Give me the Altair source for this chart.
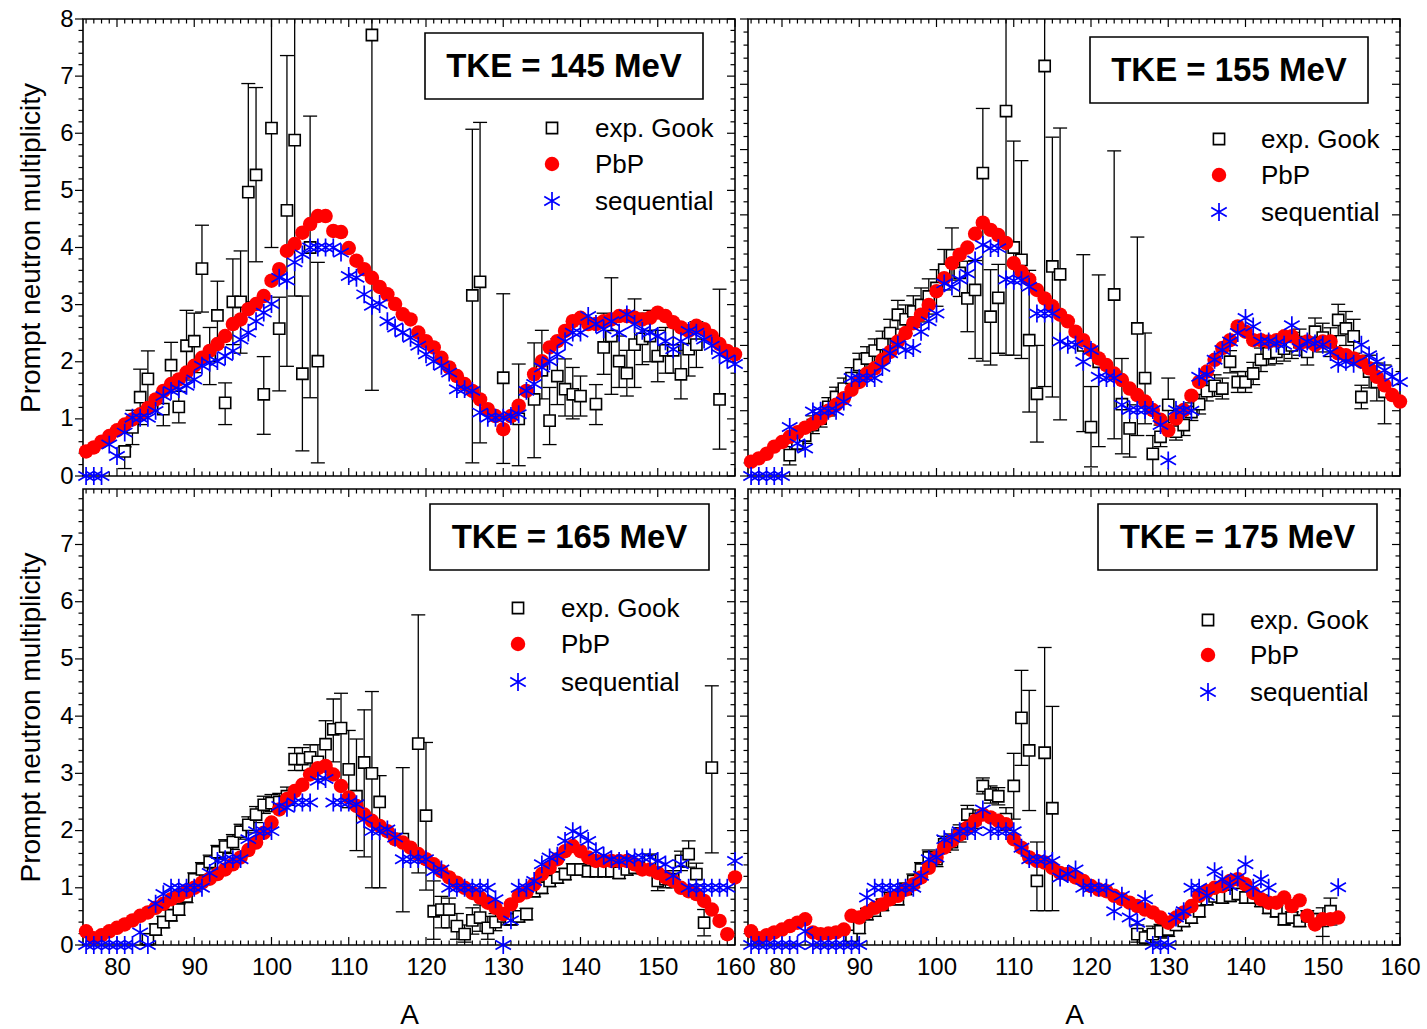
import altair as alt
import pandas as pd

FONT = "Liberation Sans"
RED = "#ff0000"
BLUE = "#0000ff"
STAR = "M0,-1L0,1M-0.866,-0.5L0.866,0.5M-0.866,0.5L0.866,-0.5"

XMIN, XMAX = 75.6, 160.0
W = 652
H_TOP, H_BOT = 457, 456

A_ALL = list(range(76, 161))
A_175 = list(range(76, 153))

# ---------------- TKE = 145 MeV ----------------
PBP_145 = [0.43, 0.50, 0.60, 0.70, 0.80, 0.90, 0.99, 1.08, 1.19, 1.34,
           1.49, 1.61, 1.69, 1.81, 1.93, 2.07, 2.19, 2.31, 2.45, 2.66,
           2.74, 2.92, 3.01, 3.15, 3.42, 3.62, 3.94, 4.06, 4.26, 4.41,
           4.55, 4.55, 4.29, 4.27, 3.99, 3.77, 3.62, 3.47, 3.31, 3.18,
           3.01, 2.83, 2.74, 2.51, 2.36, 2.25, 2.07, 1.90, 1.75, 1.61,
           1.49, 1.34, 1.17, 1.05, 0.82, 1.05, 1.23, 1.49, 1.78, 2.01,
           2.25, 2.36, 2.54, 2.71, 2.77, 2.66, 2.66, 2.71, 2.74, 2.80,
           2.80, 2.77, 2.74, 2.77, 2.86, 2.80, 2.69, 2.60, 2.54, 2.63,
           2.57, 2.45, 2.31, 2.19, 2.13]
SEQ_145 = [0, 0, 0, 0.55, 0.35, 0.76, 1.02, 1.02, 1.02, 1.14,
           1.40, 1.49, 1.52, 1.58, 1.69, 1.93, 1.98, 2.01, 2.10, 2.19,
           2.39, 2.51, 2.71, 2.86, 3.01, 3.47, 3.42, 3.74, 3.88, 4.00,
           4.00, 4.00, 4.00, 3.91, 3.50, 3.47, 3.18, 2.98, 3.01, 2.71,
           2.60, 2.51, 2.42, 2.28, 2.13, 2.01, 1.93, 1.81, 1.52, 1.52,
           1.49, 1.11, 1.02, 1.02, 1.02, 1.05, 1.08, 1.49, 1.61, 1.90,
           2.01, 2.13, 2.36, 2.51, 2.51, 2.80, 2.66, 2.57, 2.71, 2.51,
           2.83, 2.66, 2.54, 2.51, 2.45, 2.36, 2.22, 2.36, 2.54, 2.51,
           2.39, 2.28, 2.13, 2.04, 1.96]
EXP145_A = [81, 82, 83, 84, 86, 87, 88, 89, 90, 91, 92, 93, 94, 95, 96, 97, 98, 99, 100,
            101, 102, 103, 104, 105, 106, 113, 126, 127, 130, 132, 134, 135, 136, 137,
            138, 139, 140, 142, 143, 144, 145, 146, 147, 148, 149, 150, 151, 152, 153,
            154, 155, 158]
EXP145_V = [0.43, 0.85, 1.38, 1.70, 1.17, 1.94, 1.21, 2.28, 2.36, 3.63, 2.10, 2.81, 1.28,
            3.05, 3.05, 4.97, 5.27, 1.43, 6.09, 2.58, 4.65, 5.88, 1.79, 4.00, 2.01, 7.72,
            3.16, 3.40, 1.72, 1.00, 1.34, 1.85, 0.97, 1.75, 1.52, 1.43, 1.40, 1.26, 2.25,
            2.45, 2.01, 1.80, 2.30, 2.40, 2.45, 2.10, 2.20, 2.20, 1.78, 2.22, 2.30, 1.34]
EXP145_LO = [0.13, 0.55, 0.90, 1.20, 0.88, 1.53, 0.93, 1.68, 1.81, 2.87, 1.60, 2.26, 0.90,
             2.30, 2.15, 3.05, 3.75, 0.73, 4.00, 1.49, 1.92, 3.15, 0.44, 1.37, 0.23, 1.50,
             0.23, 0.58, 0.22, 0.18, 0.32, 1.35, 0.55, 1.25, 1.05, 1.00, 1.05, 0.90, 1.78,
             1.43, 1.55, 1.40, 1.55, 1.95, 2.00, 1.65, 1.80, 1.80, 1.35, 1.75, 1.90, 0.47]
EXP145_HI = [0.51, 1.15, 1.87, 2.19, 1.48, 2.34, 1.48, 2.90, 2.85, 4.39, 2.60, 3.41, 1.63,
             3.80, 3.94, 6.87, 6.80, 2.09, 8.50, 3.13, 7.36, 8.50, 3.15, 6.30, 3.74, 9.00,
             6.07, 6.19, 3.19, 1.96, 2.33, 2.55, 1.55, 2.40, 2.05, 1.90, 1.75, 1.60, 2.85,
             3.47, 2.45, 2.20, 3.10, 2.85, 2.90, 2.55, 2.60, 2.60, 2.20, 2.65, 2.70, 3.27]

# ---------------- TKE = 155 MeV ----------------
PBP_155 = [0.22, 0.27, 0.34, 0.45, 0.52, 0.60, 0.67, 0.74, 0.80, 0.88,
           1.00, 1.09, 1.19, 1.32, 1.44, 1.57, 1.65, 1.78, 1.90, 2.06,
           2.19, 2.34, 2.47, 2.62, 2.83, 3.03, 3.26, 3.39, 3.50, 3.71,
           3.88, 3.77, 3.69, 3.57, 3.26, 3.13, 3.01, 2.85, 2.72, 2.60,
           2.47, 2.37, 2.21, 2.08, 1.93, 1.80, 1.70, 1.57, 1.47, 1.34,
           1.24, 1.14, 1.01, 0.86, 0.70, 0.88, 1.01, 1.23, 1.44, 1.60,
           1.78, 1.96, 2.08, 2.29, 2.21, 2.08, 2.08, 2.06, 2.08, 2.14,
           2.14, 2.03, 2.06, 2.01, 2.06, 2.06, 1.88, 1.85, 1.80, 1.75,
           1.65, 1.52, 1.39, 1.24, 1.14]
SEQ_155 = [0, 0, 0, 0, 0, 0.75, 0.50, 0.42, 0.99, 1.00,
           1.00, 1.00, 1.14, 1.50, 1.50, 1.50, 1.50, 1.67, 1.88, 2.01,
           1.93, 1.96, 2.21, 2.37, 2.49, 2.95, 2.90, 3.01, 3.10, 3.30,
           3.54, 3.49, 3.49, 3.01, 2.99, 3.00, 2.90, 2.49, 2.49, 2.49,
           2.06, 2.01, 2.01, 1.75, 1.93, 1.52, 1.50, 1.50, 1.09, 1.01,
           1.01, 1.01, 1.01, 0.78, 0.24, 1.01, 1.01, 1.00, 1.52, 1.55,
           1.78, 1.93, 2.06, 2.19, 2.42, 2.29, 2.06, 2.06, 2.03, 2.01,
           2.31, 1.96, 2.06, 2.03, 2.01, 1.90, 1.72, 1.75, 1.72, 2.01,
           1.85, 1.75, 1.62, 1.52, 1.44]
EXP155_A = [81, 82, 83, 84, 85, 86, 87, 88, 89, 90, 91, 92, 93, 94, 95, 96, 97, 98, 99, 100,
            101, 102, 103, 104, 105, 106, 107, 108, 109, 110, 111, 112, 113, 114, 115, 116,
            119, 120, 121, 123, 124, 125, 126, 127, 128, 129, 130, 131, 132, 133, 134, 135,
            136, 137, 138, 139, 140, 141, 142, 143, 144, 145, 146, 147, 148, 149, 150, 151,
            152, 153, 154, 155, 156, 157, 158]
EXP155_V = [0.32, 0.50, 0.62, 0.78, 0.88, 1.06, 1.21, 1.34, 1.50, 1.70, 1.80, 1.92, 2.02,
            2.19, 2.47, 2.40, 2.52, 2.62, 2.75, 2.88, 3.16, 3.38, 3.11, 2.72, 2.85, 4.64,
            2.44, 2.73, 5.59, 3.50, 3.31, 2.08, 1.26, 6.28, 3.21, 3.09, 2.00, 0.75, 1.75,
            2.78, 1.10, 0.73, 2.26, 1.50, 0.34, 0.60, 1.09, 0.68, 0.78, 0.98, 1.10, 1.30,
            1.38, 1.34, 1.75, 1.44, 1.44, 1.57, 1.78, 1.88, 1.90, 1.95, 2.00, 2.05, 1.90,
            2.21, 2.12, 2.05, 2.39, 2.26, 2.14, 1.21, 1.60, 1.44, 1.29]
EXP155_LO = [0.17, 0.40, 0.50, 0.65, 0.75, 0.92, 1.06, 1.18, 1.34, 1.52, 1.62, 1.74, 1.82,
             1.98, 2.25, 2.18, 2.28, 2.36, 2.48, 2.60, 2.85, 3.00, 2.75, 2.21, 1.80, 1.76,
             1.70, 1.88, 1.85, 1.85, 1.80, 0.98, 0.52, 1.37, 1.21, 0.86, 0.68, 0.14, 0.45,
             0.57, 0.34, 0.29, 0.62, 0.80, 0.00, 0.45, 0.68, 0.55, 0.62, 0.85, 0.95, 1.15,
             1.22, 1.18, 1.58, 1.28, 1.28, 1.40, 1.60, 1.70, 1.72, 1.76, 1.80, 1.85, 1.70,
             2.00, 1.90, 1.83, 2.15, 2.00, 1.88, 1.03, 1.35, 1.15, 0.80]
EXP155_HI = [0.45, 0.62, 0.75, 0.92, 1.02, 1.20, 1.36, 1.50, 1.66, 1.88, 1.98, 2.10, 2.22,
             2.40, 2.69, 2.62, 2.76, 2.88, 3.02, 3.16, 3.47, 3.80, 3.47, 3.29, 3.30, 5.63,
             3.16, 3.24, 7.50, 5.13, 4.83, 3.15, 2.00, 7.50, 5.19, 5.33, 3.39, 1.37, 3.08,
             4.98, 1.80, 1.09, 3.66, 2.19, 0.62, 0.78, 1.50, 0.82, 0.95, 1.12, 1.25, 1.45,
             1.55, 1.50, 1.92, 1.60, 1.60, 1.74, 1.96, 2.06, 2.08, 2.14, 2.20, 2.25, 2.10,
             2.42, 2.34, 2.27, 2.63, 2.52, 2.40, 1.39, 1.85, 1.73, 1.70]

# ---------------- TKE = 165 MeV ----------------
PBP_165 = [0.24, 0.12, 0.17, 0.24, 0.30, 0.36, 0.43, 0.51, 0.57, 0.65,
           0.72, 0.80, 0.86, 0.93, 1.00, 1.09, 1.16, 1.24, 1.32, 1.41,
           1.53, 1.66, 1.79, 1.96, 2.14, 2.37, 2.55, 2.69, 2.80, 2.98,
           3.09, 3.13, 2.98, 2.78, 2.58, 2.43, 2.28, 2.17, 2.08, 1.99,
           1.85, 1.79, 1.70, 1.59, 1.50, 1.41, 1.29, 1.18, 1.09, 1.00,
           0.91, 0.83, 0.74, 0.65, 0.54, 0.71, 0.86, 0.92, 1.06, 1.24,
           1.35, 1.50, 1.64, 1.73, 1.64, 1.53, 1.47, 1.47, 1.47, 1.47,
           1.47, 1.41, 1.32, 1.32, 1.26, 1.18, 1.12, 1.00, 0.94, 0.89,
           0.77, 0.62, 0.42, 0.19, 1.18]
SEQ_165 = [0, 0, 0, 0, 0, 0, 0, 0.22, 0, 0.72,
           0.89, 1.00, 1.00, 1.00, 1.00, 1.00, 1.26, 1.47, 1.50, 1.50,
           1.50, 1.85, 1.99, 1.99, 1.99, 2.43, 2.40, 2.49, 2.49, 2.49,
           2.87, 2.90, 2.49, 2.49, 2.49, 2.46, 2.20, 1.99, 1.99, 2.02,
           1.88, 1.50, 1.50, 1.50, 1.50, 1.29, 1.32, 1.00, 1.00, 1.00,
           1.00, 1.00, 1.00, 0.80, 0, 0.43, 1.00, 1.00, 1.12, 1.41,
           1.53, 1.56, 1.82, 1.99, 1.93, 1.82, 1.64, 1.56, 1.50, 1.47,
           1.50, 1.53, 1.53, 1.53, 1.47, 1.41, 1.21, 1.41, 1.00, 1.00,
           1.00, 1.00, 1.00, 1.00, 1.47]
EXP165_A = [84, 85, 86, 87, 88, 89, 90, 91, 92, 93, 94, 95, 96, 97, 98, 99, 100, 101, 102,
            103, 104, 105, 106, 107, 108, 109, 110, 111, 112, 113, 114, 117, 119, 120, 121,
            122, 123, 124, 125, 126, 127, 128, 129, 130, 131, 132, 133, 134, 135, 136, 137,
            138, 139, 140, 141, 142, 143, 144, 145, 146, 147, 148, 149, 150, 151, 152, 153,
            154, 155, 156, 157]
EXP165_V = [0.10, 0.27, 0.40, 0.52, 0.62, 0.85, 1.15, 1.32, 1.45, 1.62, 1.72, 1.80, 1.98,
            2.10, 2.28, 2.45, 2.48, 2.50, 2.60, 3.25, 3.25, 3.28, 3.20, 3.51, 3.77, 3.79,
            3.07, 2.60, 3.19, 3.00, 2.50, 1.85, 3.52, 2.26, 0.59, 0.62, 0.62, 0.33, 0.19,
            0.43, 0.48, 0.30, 0.40, 0.50, 0.45, 0.50, 0.54, 0.94, 1.00, 1.12, 1.18, 1.24,
            1.32, 1.32, 1.29, 1.29, 1.29, 1.29, 1.26, 1.32, 1.35, 1.35, 1.47, 1.12, 1.15,
            1.15, 1.47, 1.59, 1.24, 0.39, 3.10]
EXP165_LO = [0.02, 0.17, 0.30, 0.42, 0.52, 0.74, 1.04, 1.20, 1.33, 1.50, 1.60, 1.67, 1.85,
             1.96, 2.14, 2.30, 2.33, 2.35, 2.44, 3.05, 3.05, 3.05, 2.90, 3.10, 3.20, 2.80,
             2.40, 1.65, 1.54, 1.00, 1.00, 0.58, 1.26, 0.96, 0.10, 0.30, 0.30, 0.10, 0.05,
             0.19, 0.24, 0.10, 0.25, 0.35, 0.35, 0.40, 0.44, 0.84, 0.90, 1.02, 1.08, 1.14,
             1.22, 1.22, 1.19, 1.19, 1.19, 1.19, 1.16, 1.22, 1.25, 1.25, 1.35, 0.95, 1.00,
             1.00, 1.30, 1.36, 1.05, 0.16, 1.61]
EXP165_HI = [0.20, 0.37, 0.50, 0.62, 0.72, 0.96, 1.26, 1.44, 1.57, 1.74, 1.84, 1.93, 2.11,
             2.24, 2.42, 2.60, 2.63, 2.65, 2.76, 3.45, 3.45, 3.50, 3.50, 3.92, 4.30, 4.40,
             3.75, 3.60, 4.11, 4.43, 2.96, 3.10, 5.77, 3.54, 1.12, 0.85, 0.82, 0.55, 0.35,
             0.65, 0.70, 0.50, 0.55, 0.65, 0.55, 0.60, 0.64, 1.04, 1.10, 1.22, 1.28, 1.34,
             1.42, 1.42, 1.39, 1.39, 1.39, 1.39, 1.36, 1.42, 1.45, 1.45, 1.59, 1.29, 1.30,
             1.30, 1.64, 1.82, 1.43, 0.62, 4.53]

# ---------------- TKE = 175 MeV ----------------
PBP_175 = [0.24, 0.12, 0.17, 0.22, 0.27, 0.33, 0.39, 0.45, 0.22, 0.19,
           0.20, 0.22, 0.27, 0.51, 0.48, 0.57, 0.65, 0.71, 0.80, 0.86,
           0.97, 1.06, 1.18, 1.35, 1.53, 1.70, 1.82, 1.93, 2.05, 2.17,
           2.28, 2.23, 2.17, 2.11, 1.85, 1.70, 1.53, 1.47, 1.44, 1.35,
           1.26, 1.24, 1.18, 1.12, 1.03, 0.97, 0.94, 0.86, 0.80, 0.74,
           0.68, 0.62, 0.57, 0.48, 0.39, 0.48, 0.57, 0.68, 0.86, 0.94,
           1.00, 1.03, 1.12, 1.15, 1.06, 0.91, 0.80, 0.74, 0.74, 0.83,
           0.68, 0.78, 0.51, 0.36, 0.45, 0.45, 0.48]
SEQ_175 = [0, 0, 0, 0, 0, 0, 0, 0.24, 0, 0,
           0, 0, 0, 0, 0, 0.83, 1.00, 1.00, 1.00, 1.00,
           1.00, 1.00, 1.21, 1.50, 1.53, 1.85, 1.88, 1.99, 1.99, 1.99,
           2.37, 1.99, 1.99, 1.99, 1.99, 1.70, 1.50, 1.50, 1.50, 1.47,
           1.18, 1.24, 1.32, 1.00, 1.00, 1.00, 1.00, 0.59, 0.86, 0.48,
           0.39, 0.80, 0, 0, 0, 0.48, 0.59, 1.00, 1.00, 0.86,
           1.29, 1.15, 1.03, 1.18, 1.41, 1.00, 1.15, 1.00, None, None,
           None, None, None, None, None, None, 1.01]
EXP175_A = [89, 90, 91, 92, 93, 94, 95, 96, 97, 98, 99, 100, 101, 102, 103, 104, 105, 106,
            107, 108, 109, 110, 111, 112, 113, 114, 115, 126, 127, 128, 129, 130, 131, 132,
            133, 134, 135, 136, 137, 138, 139, 140, 141, 142, 143, 144, 145, 146, 147, 148,
            149, 150, 151]
EXP175_V = [0.16, 0.30, 0.54, 0.60, 0.70, 0.82, 0.80, 0.98, 1.12, 1.32, 1.53, 1.50, 1.76,
            1.80, 1.95, 2.28, 2.20, 2.78, 2.63, 2.60, 2.20, 2.78, 3.97, 3.40, 1.12, 3.36,
            2.39, 0.19, 0.13, 0.19, 0.24, 0.27, 0.35, 0.42, 0.48, 0.59, 0.80, 0.85, 0.83,
            0.86, 0.89, 0.83, 0.83, 0.77, 0.65, 0.59, 0.45, 0.48, 0.42, 0.50, 0.45, 0.42,
            0.59]
EXP175_LO = [0.08, 0.20, 0.44, 0.50, 0.60, 0.72, 0.70, 0.88, 1.00, 1.20, 1.40, 1.37, 1.62,
             1.66, 1.80, 2.12, 2.04, 2.64, 2.48, 2.45, 2.00, 2.20, 3.14, 2.35, 0.60, 0.60,
             0.60, 0.05, 0.00, 0.05, 0.12, 0.15, 0.25, 0.32, 0.38, 0.49, 0.70, 0.75, 0.73,
             0.76, 0.79, 0.73, 0.73, 0.67, 0.55, 0.49, 0.35, 0.38, 0.32, 0.40, 0.35, 0.15,
             0.35]
EXP175_HI = [0.25, 0.40, 0.64, 0.70, 0.80, 0.92, 0.90, 1.08, 1.24, 1.44, 1.66, 1.63, 1.90,
             1.94, 2.10, 2.44, 2.36, 2.92, 2.78, 2.75, 2.40, 3.35, 4.80, 4.45, 1.80, 5.20,
             4.17, 0.35, 0.25, 0.33, 0.36, 0.39, 0.45, 0.52, 0.58, 0.69, 0.90, 0.95, 0.93,
             0.96, 0.99, 0.93, 0.93, 0.87, 0.75, 0.69, 0.55, 0.58, 0.52, 0.60, 0.55, 0.65,
             0.82]

X_LABELS = [80, 90, 100, 110, 120, 130, 140, 150, 160]
X_MAJOR = X_LABELS
X_MINOR = [a for a in range(76, 161) if a % 10 != 0]
LEGEND_LABELS = ["exp. Gook", "PbP", "sequential"]

T_MAJ, T_MIN = 8, 4.5
CIRCLE_SIZE = 210
STAR_SIZE = 320

AXIS_STYLE = dict(grid=False, ticks=False, domain=False, labelFont=FONT, titleFont=FONT,
                  labelColor="black", titleColor="black", labelFontSize=24,
                  titleFontSize=28, titleFontWeight="normal", labelFlush=False,
                  labelOverlap=False, format="d")


def panel(tke, a_pbp, pbp, a_seq, seq, ea, ev, elo, ehi, ymax, ylabels, H,
          box, leg, bottom, left):
    xs = alt.Scale(domain=[XMIN, XMAX], nice=False, zero=False)
    ys = alt.Scale(domain=[0, ymax], nice=False, zero=True)
    xaxis = (alt.Axis(values=X_LABELS, title="A", labelPadding=10, titlePadding=22,
                      **AXIS_STYLE)
             if bottom else None)
    yaxis = (alt.Axis(values=ylabels, title="Prompt neutron multiplicity",
                      labelPadding=10, titlePadding=14, **AXIS_STYLE)
             if left else None)

    def X(f):
        return alt.X(f, type="quantitative", scale=xs, axis=xaxis)

    def Y(f):
        return alt.Y(f, type="quantitative", scale=ys, axis=yaxis)

    y_major = list(range(0, int(ymax) + 1))
    y_minor = [round(k * 0.2, 1) for k in range(0, int(ymax * 5) + 1) if k % 5 != 0]
    dxM = pd.DataFrame({"t": X_MAJOR})
    dxm = pd.DataFrame({"t": X_MINOR})
    dyM = pd.DataFrame({"t": y_major})
    dym = pd.DataFrame({"t": y_minor})

    layers = []
    for d, ln in ((dxM, T_MAJ), (dxm, T_MIN)):
        layers.append(alt.Chart(d).mark_rule(color="black", strokeWidth=1.2).encode(
            x=X("t"), y=alt.value(H), y2=alt.value(H - ln)))
        layers.append(alt.Chart(d).mark_rule(color="black", strokeWidth=1.2).encode(
            x=X("t"), y=alt.value(0), y2=alt.value(ln)))
    for d, ln in ((dyM, T_MAJ), (dym, T_MIN)):
        layers.append(alt.Chart(d).mark_rule(color="black", strokeWidth=1.2).encode(
            y=Y("t"), x=alt.value(-ln), x2=alt.value(0)))
        layers.append(alt.Chart(d).mark_rule(color="black", strokeWidth=1.2).encode(
            y=Y("t"), x=alt.value(W), x2=alt.value(W - ln)))

    dexp = pd.DataFrame({"A": ea, "v": ev, "lo": elo, "hi": ehi})
    layers.append(alt.Chart(dexp).mark_rule(color="black", strokeWidth=1.3, clip=True).encode(
        x=X("A"), y=Y("lo"), y2=alt.Y2("hi")))
    for c in ("lo", "hi"):
        layers.append(alt.Chart(dexp).mark_tick(orient="horizontal", size=14, thickness=1.3,
                                                color="black", clip=True, opacity=1).encode(
            x=X("A"), y=Y(c)))
    layers.append(alt.Chart(dexp).mark_point(shape="square", filled=True, fill="white",
                                             stroke="black", strokeWidth=1.6, size=125,
                                             opacity=1).encode(x=X("A"), y=Y("v")))

    dp = pd.DataFrame({"A": a_pbp, "v": pbp})
    layers.append(alt.Chart(dp).mark_circle(color=RED, size=CIRCLE_SIZE, opacity=1).encode(
        x=X("A"), y=Y("v")))

    ds = pd.DataFrame({"A": a_seq, "v": seq}).dropna()
    layers.append(alt.Chart(ds).mark_point(shape=STAR, color=BLUE, strokeWidth=1.7,
                                           size=STAR_SIZE, filled=False, opacity=1).encode(
        x=X("A"), y=Y("v")))

    # TKE box
    x1, y1, x2, y2 = box
    dt = pd.DataFrame({"s": ["TKE = %d MeV" % tke]})
    layers.append(alt.Chart(dt).mark_rect(fill="white", stroke="black", strokeWidth=1.6).encode(
        x=alt.value(x1), x2=alt.value(x2), y=alt.value(y1), y2=alt.value(y2)))
    layers.append(alt.Chart(dt).mark_text(font=FONT, fontSize=33, fontWeight="bold",
                                          color="black", align="center",
                                          baseline="middle").encode(
        x=alt.value((x1 + x2) / 2), y=alt.value((y1 + y2) / 2 + 1), text="s:N"))

    # legend
    sx, tx, rows = leg
    dl = [pd.DataFrame({"s": [lab]}) for lab in LEGEND_LABELS]
    layers.append(alt.Chart(dl[0]).mark_point(shape="square", filled=True, fill="white",
                                              stroke="black", strokeWidth=1.6, size=125,
                                              opacity=1).encode(
        x=alt.value(sx), y=alt.value(rows[0])))
    layers.append(alt.Chart(dl[1]).mark_circle(color=RED, size=CIRCLE_SIZE, opacity=1).encode(
        x=alt.value(sx), y=alt.value(rows[1])))
    layers.append(alt.Chart(dl[2]).mark_point(shape=STAR, color=BLUE, strokeWidth=1.7,
                                              size=STAR_SIZE, filled=False, opacity=1).encode(
        x=alt.value(sx), y=alt.value(rows[2])))
    for i in range(3):
        layers.append(alt.Chart(dl[i]).mark_text(font=FONT, fontSize=26, color="black",
                                                 align="left", baseline="middle").encode(
            x=alt.value(tx), y=alt.value(rows[i] + 1), text="s:N"))

    return alt.layer(*layers).properties(width=W, height=H)


p1 = panel(145, A_ALL, PBP_145, A_ALL, SEQ_145, EXP145_A, EXP145_V, EXP145_LO, EXP145_HI,
           8.0, list(range(0, 9)), H_TOP, (342, 14, 620, 80), (469, 512, (109, 145, 182)),
           False, True)
p2 = panel(155, A_ALL, PBP_155, A_ALL, SEQ_155, EXP155_A, EXP155_V, EXP155_LO, EXP155_HI,
           7.0, list(range(0, 8)), H_TOP, (342, 18, 620, 84), (471, 513, (120, 156, 193)),
           False, False)
p3 = panel(165, A_ALL, PBP_165, A_ALL, SEQ_165, EXP165_A, EXP165_V, EXP165_LO, EXP165_HI,
           7.97, list(range(0, 8)), H_BOT, (347, 15, 626, 81), (435, 478, (119, 155, 193)),
           True, True)
p4 = panel(175, A_175, PBP_175, A_175, SEQ_175, EXP175_A, EXP175_V, EXP175_LO, EXP175_HI,
           7.97, list(range(0, 8)), H_BOT, (350, 15, 629, 81), (460, 502, (131, 166, 203)),
           True, False)

chart = alt.concat(p1, p2, p3, p4, columns=2, spacing=13, bounds="flush").properties(
    padding={"left": 16, "top": 6, "right": 5, "bottom": 3},
    background="white"
).configure_view(
    stroke="black", strokeWidth=1.6
).configure_axis(
    grid=False, ticks=False, domain=False, labelFont=FONT, titleFont=FONT,
    labelColor="black", titleColor="black", labelFontSize=24, titleFontSize=28,
    titleFontWeight="normal", labelFlush=False, labelOverlap=False
)

chart.save("out.html", embed_options={"renderer": "svg", "actions": False})
